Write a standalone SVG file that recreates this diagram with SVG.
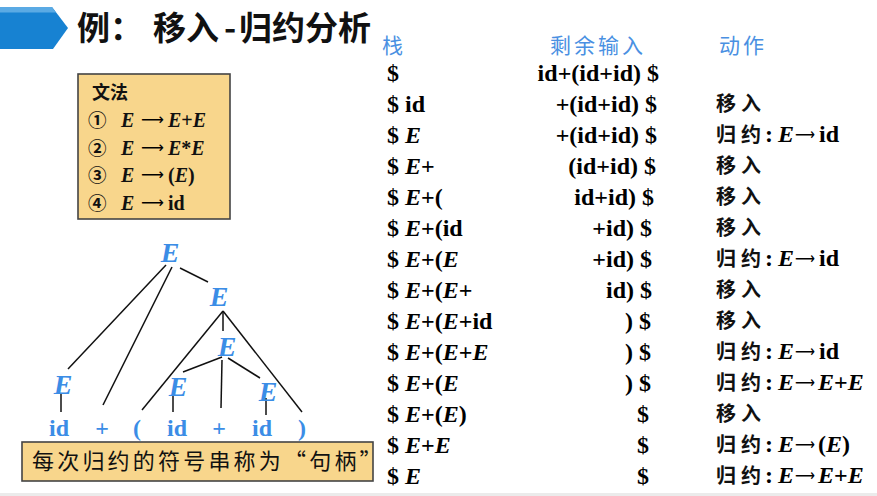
<svg xmlns="http://www.w3.org/2000/svg" width="877" height="496" viewBox="0 0 877 496">
<defs>
<style>
.cjk{font-family:"Noto Sans CJK SC","Liberation Sans",sans-serif;}
.ser{font-family:"Liberation Serif","DejaVu Serif",serif;font-weight:bold;}
.hdr{font-family:"Noto Sans CJK SC",sans-serif;font-size:21px;fill:#4a90e2;letter-spacing:3px;}
.row{font-family:"Liberation Serif","DejaVu Serif",serif;font-weight:bold;font-size:24px;fill:#000;}
.act{font-family:"Noto Sans CJK SC",sans-serif;font-weight:bold;font-size:20px;letter-spacing:5px;fill:#111;}
.tE{font-family:"Liberation Serif",serif;font-weight:bold;font-style:italic;font-size:28px;fill:#3b8de6;text-anchor:middle;}
.leaf{font-family:"Liberation Serif",serif;font-weight:bold;font-size:24px;fill:#3b8de6;text-anchor:middle;}
.edge{stroke:#111;stroke-width:1.5;fill:none;}
.box{fill:#f8d68c;stroke:#444;stroke-width:1.6;}
.num{font-family:"Noto Sans CJK SC",sans-serif;font-size:18.5px;font-weight:bold;}
.it{font-style:italic;}
.arr{font-family:"DejaVu Sans",sans-serif;font-weight:normal;font-style:normal;fill:#000;}
</style>
</defs>
<rect x="0" y="0" width="877" height="496" fill="#ffffff"/>
<rect x="0" y="493" width="877" height="3" fill="#ebebeb"/>

<g id="banner">
<polygon points="0,7 52,7 68,28 53,49 0,49" fill="#1782d2"/>
<polygon points="0,7 52,7 56,12.5 0,12.5" fill="#5aaae4"/>
</g>
<g id="title" class="cjk" font-weight="bold" font-size="33" fill="#111">
<text x="77" y="40">例：</text>
<text x="153" y="40">移入</text>
<text x="224" y="40">-</text>
<text x="239" y="40">归约分析</text>
</g>

<g id="grammar">
<rect class="box" x="78" y="74" width="152" height="145"/>
<text x="92" y="99" class="cjk" font-weight="bold" font-size="18" fill="#111">文法</text>
<g class="ser" font-size="20" fill="#111">
<text x="88" y="127" class="num">①</text>
<text x="121" y="127" class="it">E</text>
<text x="141" y="125" class="arr" font-size="16" textLength="23" lengthAdjust="spacingAndGlyphs">⟶</text>
<text x="168" y="127"><tspan class="it">E</tspan>+<tspan class="it">E</tspan></text>
<text x="88" y="155" class="num">②</text>
<text x="121" y="155" class="it">E</text>
<text x="141" y="153" class="arr" font-size="16" textLength="23" lengthAdjust="spacingAndGlyphs">⟶</text>
<text x="168" y="155"><tspan class="it">E</tspan>*<tspan class="it">E</tspan></text>
<text x="88" y="182" class="num">③</text>
<text x="121" y="182" class="it">E</text>
<text x="141" y="180" class="arr" font-size="16" textLength="23" lengthAdjust="spacingAndGlyphs">⟶</text>
<text x="168" y="182">(<tspan class="it">E</tspan>)</text>
<text x="88" y="210" class="num">④</text>
<text x="121" y="210" class="it">E</text>
<text x="141" y="208" class="arr" font-size="16" textLength="23" lengthAdjust="spacingAndGlyphs">⟶</text>
<text x="168" y="210">id</text>
</g>
</g>

<g id="connectors">
<line class="edge" x1="166" y1="265" x2="68" y2="369"/>
<line class="edge" x1="172" y1="267" x2="103" y2="405"/>
<line class="edge" x1="180" y1="268" x2="208" y2="282"/>
<line class="edge" x1="223" y1="311" x2="142" y2="410"/>
<line class="edge" x1="223" y1="311" x2="223" y2="331"/>
<line class="edge" x1="223" y1="311" x2="302" y2="412"/>
<line class="edge" x1="222" y1="357" x2="183" y2="372"/>
<line class="edge" x1="222" y1="360" x2="221" y2="408"/>
<line class="edge" x1="228" y1="358" x2="260" y2="378"/>
<line class="edge" x1="61" y1="393" x2="61" y2="412"/>
<line class="edge" x1="173" y1="395" x2="173" y2="412"/>
<line class="edge" x1="266" y1="398" x2="266" y2="415"/>
</g>

<g id="E_root"><text class="tE" x="170" y="262">E</text></g>
<g id="E_right"><text class="tE" x="219" y="306">E</text></g>
<g id="E_mid"><text class="tE" x="227" y="356">E</text></g>
<g id="E_left"><text class="tE" x="63" y="394">E</text></g>
<g id="E_inner_left"><text class="tE" x="178" y="396">E</text></g>
<g id="E_inner_right"><text class="tE" x="268" y="401">E</text></g>
<g id="leaf_id1"><text class="leaf" x="59" y="436">id</text></g>
<g id="leaf_plus1"><text class="leaf" x="102" y="436">+</text></g>
<g id="leaf_lparen"><text class="leaf" x="137" y="436">(</text></g>
<g id="leaf_id2"><text class="leaf" x="177" y="436">id</text></g>
<g id="leaf_plus2"><text class="leaf" x="219" y="436">+</text></g>
<g id="leaf_id3"><text class="leaf" x="262" y="436">id</text></g>
<g id="leaf_rparen"><text class="leaf" x="302" y="436">)</text></g>

<g id="caption">
<rect class="box" x="22" y="442" width="351" height="39" stroke="#333"/>
<text x="32" y="469" class="cjk" font-size="22" letter-spacing="3.2" fill="#111">每次归约的符号串称为“句柄”</text>
</g>

<g id="headers">
<text class="hdr" x="382" y="53">栈</text>
<text class="hdr" x="550" y="53">剩余输入</text>
<text class="hdr" x="719" y="53">动作</text>
</g>

<g id="stack" class="row">
<text x="387" y="81">$</text>
<text x="387" y="112">$ id</text>
<text x="387" y="143">$ <tspan class="it">E</tspan></text>
<text x="387" y="174">$ <tspan class="it">E</tspan>+</text>
<text x="387" y="205">$ <tspan class="it">E</tspan>+(</text>
<text x="387" y="236">$ <tspan class="it">E</tspan>+(id</text>
<text x="387" y="267">$ <tspan class="it">E</tspan>+(<tspan class="it">E</tspan></text>
<text x="387" y="298">$ <tspan class="it">E</tspan>+(<tspan class="it">E</tspan>+</text>
<text x="387" y="329">$ <tspan class="it">E</tspan>+(<tspan class="it">E</tspan>+id</text>
<text x="387" y="360">$ <tspan class="it">E</tspan>+(<tspan class="it">E</tspan>+<tspan class="it">E</tspan></text>
<text x="387" y="391">$ <tspan class="it">E</tspan>+(<tspan class="it">E</tspan></text>
<text x="387" y="422">$ <tspan class="it">E</tspan>+(<tspan class="it">E</tspan>)</text>
<text x="387" y="453">$ <tspan class="it">E</tspan>+<tspan class="it">E</tspan></text>
<text x="387" y="484">$ <tspan class="it">E</tspan></text>
</g>

<g id="input" class="row" text-anchor="end">
<text x="659" y="81">id+(id+id) $</text>
<text x="657" y="112">+(id+id) $</text>
<text x="657" y="143">+(id+id) $</text>
<text x="656" y="174">(id+id) $</text>
<text x="654" y="205">id+id) $</text>
<text x="652" y="236">+id) $</text>
<text x="652" y="267">+id) $</text>
<text x="652" y="298">id) $</text>
<text x="651" y="329">) $</text>
<text x="651" y="360">) $</text>
<text x="651" y="391">) $</text>
<text x="649" y="422">$</text>
<text x="649" y="453">$</text>
<text x="649" y="484">$</text>
</g>

<g id="actions">
<text class="act" x="716" y="111">移入</text>
<g><text class="act" x="716" y="142">归约</text><text class="row" x="765" y="142">:</text><text class="row it" x="778" y="142">E</text><text class="arr" font-size="17" x="795" y="140" textLength="20" lengthAdjust="spacingAndGlyphs">⟶</text><text class="row" x="819" y="142">id</text></g>
<text class="act" x="716" y="173">移入</text>
<text class="act" x="716" y="204">移入</text>
<text class="act" x="716" y="235">移入</text>
<g><text class="act" x="716" y="266">归约</text><text class="row" x="765" y="266">:</text><text class="row it" x="778" y="266">E</text><text class="arr" font-size="17" x="795" y="264" textLength="20" lengthAdjust="spacingAndGlyphs">⟶</text><text class="row" x="819" y="266">id</text></g>
<text class="act" x="716" y="297">移入</text>
<text class="act" x="716" y="328">移入</text>
<g><text class="act" x="716" y="359">归约</text><text class="row" x="765" y="359">:</text><text class="row it" x="778" y="359">E</text><text class="arr" font-size="17" x="795" y="357" textLength="20" lengthAdjust="spacingAndGlyphs">⟶</text><text class="row" x="819" y="359">id</text></g>
<g><text class="act" x="716" y="390">归约</text><text class="row" x="765" y="390">:</text><text class="row it" x="778" y="390">E</text><text class="arr" font-size="17" x="795" y="388" textLength="20" lengthAdjust="spacingAndGlyphs">⟶</text><text class="row" x="818" y="390"><tspan class="it">E</tspan>+<tspan class="it">E</tspan></text></g>
<text class="act" x="716" y="421">移入</text>
<g><text class="act" x="716" y="452">归约</text><text class="row" x="765" y="452">:</text><text class="row it" x="778" y="452">E</text><text class="arr" font-size="17" x="795" y="450" textLength="20" lengthAdjust="spacingAndGlyphs">⟶</text><text class="row" x="818" y="452">(<tspan class="it">E</tspan>)</text></g>
<g><text class="act" x="716" y="483">归约</text><text class="row" x="765" y="483">:</text><text class="row it" x="778" y="483">E</text><text class="arr" font-size="17" x="795" y="481" textLength="20" lengthAdjust="spacingAndGlyphs">⟶</text><text class="row" x="818" y="483"><tspan class="it">E</tspan>+<tspan class="it">E</tspan></text></g>
</g>
</svg>
